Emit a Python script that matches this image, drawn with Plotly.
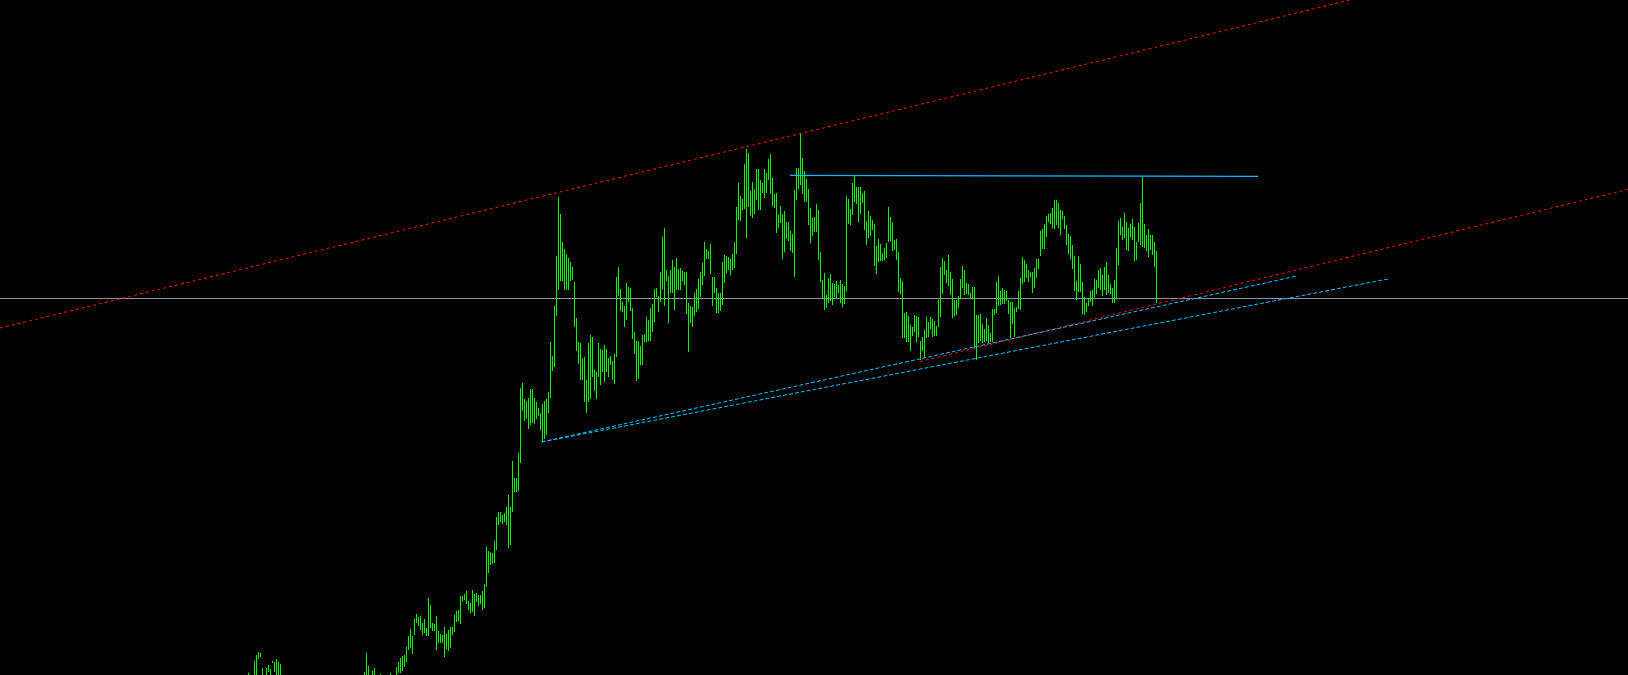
import plotly.graph_objects as go

# ---- bar data (price units; one bar per index) ----
highs = [
    2, -2, -3, 14, 20, 23, 22, 7, -2, 7, 10, 6, 14, 13, 16, 13, 11,
    -3, -6, -8, -5, -10, -12, -9, -14, -16, -13, -18, -20, -17, -22, -25, -21, -24, -28, -26, -23,
    -27, -24, -20, -22, -18, -15, -17, -13, -11, -14, -10, -8, -11, -7, -9, -5, -7, -4, -6, -3, -5,
    3, 22, 9, -1, 4, 7, -1, -2, 1, -3, -4, -2, -1, 2, -1, -1,
    8, 13, 17, 19, 20, 28, 39, 46, 39, 56, 61, 58, 59, 52, 56, 47, 77, 70, 52, 51,
    59, 44, 41, 40, 48, 41, 45, 48, 48, 60, 64, 65, 79, 79, 81, 84, 74, 72, 85, 81,
    82, 80, 80, 84, 91, 128, 124, 123, 122, 134, 158, 163, 163, 160, 162, 168, 180, 168, 214, 197,
    197, 222, 287, 292, 276, 274, 277, 286, 286, 277, 273, 267, 262, 271, 274, 276, 283, 333, 319, 369,
    419, 478, 461, 433, 426, 421, 417, 413, 408, 393, 357, 333, 332, 316, 318, 295, 332, 340, 338, 305,
    303, 332, 326, 325, 330, 326, 317, 319, 314, 321, 398, 408, 386, 373, 369, 392, 388, 387, 367, 343,
    334, 334, 329, 340, 341, 358, 355, 367, 371, 386, 387, 379, 403, 438, 447, 405, 399, 405, 415, 408,
    417, 406, 407, 404, 403, 403, 372, 369, 368, 382, 386, 396, 403, 412, 433, 426, 424, 431, 398, 398,
    387, 382, 382, 413, 420, 419, 418, 416, 421, 433, 468, 492, 479, 476, 511, 526, 522, 484, 493, 486,
    506, 506, 495, 492, 506, 502, 516, 521, 497, 481, 482, 460, 469, 461, 464, 453, 453, 444, 441, 485,
    507, 507, 541, 517, 504, 496, 486, 467, 457, 458, 471, 465, 423, 395, 402, 380, 397, 401, 392, 391,
    394, 390, 395, 391, 389, 479, 476, 466, 492, 499, 488, 488, 488, 482, 484, 454, 464, 459, 455, 451,
    429, 436, 431, 422, 427, 432, 468, 458, 453, 435, 436, 423, 397, 394, 362, 363, 359, 350, 348, 360,
    359, 358, 334, 338, 345, 358, 353, 358, 356, 354, 349, 375, 408, 417, 414, 405, 420, 403, 396, 375,
    375, 379, 396, 409, 405, 392, 391, 382, 388, 388, 360, 360, 361, 351, 346, 357, 350, 342, 366, 366,
    393, 399, 384, 387, 385, 384, 375, 373, 373, 367, 368, 384, 397, 418, 415, 411, 405, 403, 403, 407,
    416, 416, 444, 446, 451, 459, 461, 462, 467, 475, 475, 472, 465, 464, 459, 450, 441, 439, 430, 419,
    394, 419, 411, 393, 378, 372, 377, 384, 385, 396, 395, 405, 407, 400, 408, 413, 400, 391, 387, 395,
    427, 454, 457, 448, 462, 453, 447, 451, 456, 448, 433, 452, 472, 498, 451, 440, 446, 440, 440, 433,
    424,
]
lows = [
    -5, -10, -12, -5, -5, 16, 18, -5, -10, -5, 3, -5, 12, 3, -5, -5, -4,
    -14, -15, -18, -16, -21, -22, -20, -25, -27, -24, -29, -31, -28, -33, -36, -32, -35, -39, -37, -34,
    -38, -35, -31, -33, -29, -26, -28, -24, -22, -25, -21, -19, -22, -18, -20, -16, -18, -15, -17, -14, -16,
    -8, -5, -6, -8, -5, -4, -8, -9, -6, -10, -12, -10, -9, -5, -8, -6,
    -3, 2, 2, 4, 8, 13, 25, 27, 21, 40, 52, 49, 45, 40, 42, 39, 39, 47, 44, 44,
    25, 32, 32, 32, 18, 26, 24, 27, 40, 43, 53, 54, 51, 74, 75, 71, 65, 62, 63, 59,
    73, 69, 71, 65, 67, 88, 102, 110, 111, 112, 125, 150, 153, 151, 153, 150, 127, 130, 163, 183,
    183, 184, 212, 264, 254, 256, 246, 250, 252, 251, 256, 259, 245, 234, 236, 240, 262, 277, 304, 308,
    359, 385, 394, 394, 385, 385, 385, 394, 395, 348, 324, 311, 295, 295, 273, 262, 273, 276, 298, 284,
    276, 298, 290, 303, 293, 303, 298, 310, 295, 291, 318, 379, 364, 363, 348, 355, 373, 364, 336, 321,
    294, 296, 310, 310, 333, 333, 334, 334, 343, 353, 378, 363, 373, 386, 369, 394, 352, 382, 382, 365,
    385, 385, 385, 394, 390, 361, 323, 352, 348, 359, 363, 366, 378, 390, 399, 416, 416, 401, 369, 382,
    362, 362, 364, 370, 392, 402, 405, 400, 405, 407, 421, 455, 454, 465, 466, 437, 468, 459, 457, 461,
    475, 465, 465, 482, 477, 482, 495, 481, 469, 467, 442, 447, 452, 416, 423, 436, 434, 424, 422, 398,
    475, 486, 490, 481, 473, 473, 450, 432, 439, 443, 443, 415, 393, 376, 365, 367, 372, 374, 370, 378,
    376, 382, 372, 368, 371, 384, 451, 450, 460, 473, 471, 453, 461, 472, 445, 430, 437, 439, 445, 409,
    401, 413, 414, 414, 415, 417, 433, 434, 424, 425, 415, 383, 381, 337, 337, 333, 333, 324, 339, 343,
    333, 338, 315, 324, 318, 337, 338, 346, 338, 339, 339, 348, 358, 381, 400, 392, 389, 380, 357, 359,
    360, 367, 376, 387, 380, 381, 380, 377, 376, 327, 315, 332, 334, 332, 333, 334, 332, 333, 333, 360,
    362, 369, 370, 371, 371, 374, 361, 337, 351, 338, 363, 366, 365, 391, 393, 397, 393, 398, 382, 387,
    397, 406, 419, 426, 426, 438, 453, 451, 447, 446, 450, 447, 440, 456, 446, 430, 421, 416, 406, 384,
    375, 383, 383, 361, 360, 363, 369, 373, 369, 378, 381, 387, 385, 379, 385, 380, 382, 381, 372, 372,
    376, 410, 440, 435, 437, 425, 424, 438, 435, 414, 415, 433, 430, 428, 427, 424, 418, 425, 420, 408,
    372,
]

# ---- drawn objects (bar index, price) ----
hline_price = 376.5
level_x = [270.75, 504.75]
level_p = [499.7, 498.7]
red_upper_x = [-124.25, 600.0]
red_upper_p = [347.0, 698.9]
red_lower_x = [335.75, 689.75]
red_lower_p = [313.5, 485.6]
blue_a_x = [146.5, 524.25]
blue_a_p = [233.0, 399.0]
blue_b_x = [146.5, 569.75]
blue_b_p = [233.0, 396.0]

n = min(len(highs), len(lows))
bx, by = [], []
for k in range(n):
    bx += [k, k, None]
    by += [lows[k], highs[k], None]

fig = go.Figure()

fig.add_trace(go.Scatter(x=[-124.25, 689.75], y=[hline_price, hline_price], mode="lines",
                         line=dict(color="#8A94A3", width=1), hoverinfo="skip"))

fig.add_trace(go.Scatter(x=bx, y=by, mode="lines",
                         line=dict(color="#00FF00", width=1),
                         hoverinfo="skip", connectgaps=False))

fig.add_trace(go.Scatter(x=red_upper_x, y=red_upper_p, mode="lines",
                         line=dict(color="#FF0000", width=1, dash="3px,3px"), hoverinfo="skip"))
fig.add_trace(go.Scatter(x=red_lower_x, y=red_lower_p, mode="lines",
                         line=dict(color="#FF0000", width=1, dash="3px,3px"), hoverinfo="skip"))
fig.add_trace(go.Scatter(x=blue_a_x, y=blue_a_p, mode="lines",
                         line=dict(color="#00BFFF", width=1, dash="4px,2px"), hoverinfo="skip"))
fig.add_trace(go.Scatter(x=blue_b_x, y=blue_b_p, mode="lines",
                         line=dict(color="#00BFFF", width=1, dash="4px,2px"), hoverinfo="skip"))
fig.add_trace(go.Scatter(x=level_x, y=level_p, mode="lines",
                         line=dict(color="#00BFFF", width=1.3), hoverinfo="skip"))

fig.update_layout(
    width=1628, height=675,
    margin=dict(l=0, r=0, t=0, b=0),
    paper_bgcolor="#000000", plot_bgcolor="#000000",
    showlegend=False,
    xaxis=dict(range=[-124.25, 689.75], visible=False, showgrid=False, zeroline=False, fixedrange=True),
    yaxis=dict(range=[0, 675], visible=False, showgrid=False, zeroline=False, fixedrange=True),
)

fig.write_html(
    "out.html",
    config={"displayModeBar": False},
    post_script="document.body.style.margin='0';document.body.style.padding='0';"
                "document.body.style.background='#000';document.body.style.overflow='hidden';",
)
